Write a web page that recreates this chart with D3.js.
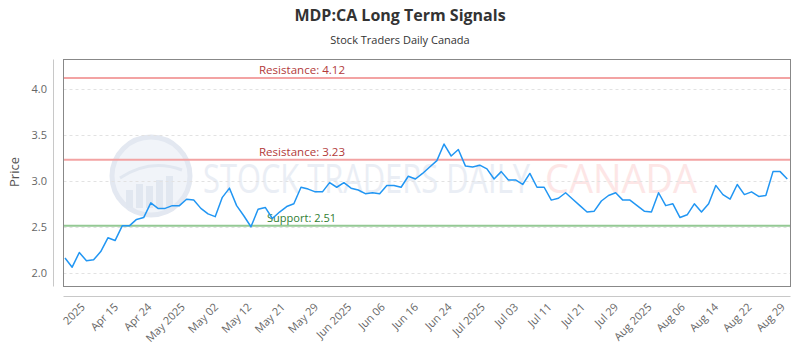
<!DOCTYPE html>
<html>
<head>
<meta charset="utf-8">
<script src="https://cdn.jsdelivr.net/npm/d3@7"></script>
<style>
  body { margin: 0; background: #fff; }
  svg { display: block; font-family: "Open Sans", sans-serif; }
</style>
</head>
<body>
<svg id="chart" width="800" height="350"></svg>
<script>
// closing prices, one per trading day
const prices = [
  2.16, 2.06, 2.22, 2.13, 2.14, 2.23, 2.38, 2.35, 2.51, 2.51,
  2.58, 2.60, 2.76, 2.70, 2.70, 2.73, 2.73, 2.80, 2.79, 2.70,
  2.64, 2.61, 2.82, 2.92, 2.73, 2.62, 2.50, 2.69, 2.71, 2.59,
  2.66, 2.72, 2.75, 2.93, 2.91, 2.88, 2.88, 2.98, 2.93, 2.98,
  2.92, 2.90, 2.86, 2.87, 2.86, 2.95, 2.95, 2.93, 3.05, 3.02,
  3.08, 3.15, 3.22, 3.40, 3.27, 3.34, 3.16, 3.15, 3.17, 3.13,
  3.02, 3.10, 3.01, 3.01, 2.96, 3.08, 2.93, 2.93, 2.79, 2.81,
  2.87, 2.80, 2.73, 2.66, 2.67, 2.78, 2.84, 2.87, 2.79, 2.79,
  2.73, 2.67, 2.66, 2.87, 2.73, 2.75, 2.60, 2.63, 2.75, 2.66,
  2.75, 2.95, 2.85, 2.80, 2.96, 2.85, 2.88, 2.83, 2.84, 3.10,
  3.10, 3.02
];

const tickLabels = [
  "2025", "Apr 15", "Apr 24", "May 2025", "May 02", "May 12", "May 21",
  "May 29", "Jun 2025", "Jun 06", "Jun 16", "Jun 24", "Jul 2025", "Jul 03",
  "Jul 11", "Jul 21", "Jul 29", "Aug 2025", "Aug 06", "Aug 14", "Aug 22", "Aug 29"
];

const yTicks = [2.0, 2.5, 3.0, 3.5, 4.0];

const levels = [
  { label: "Resistance", value: 4.12, kind: "res" },
  { label: "Resistance", value: 3.23, kind: "res" },
  { label: "Support", value: 2.51, kind: "sup" }
];

const frame = { left: 63.5, right: 790.5, top: 59.5, bottom: 286.5 };

const svg = d3.select("#chart");

let x = d3.scaleLinear()
  .domain([0, prices.length - 1])
  .range([65, 787.3]);

let y = d3.scaleLinear()
  .domain([1.85, 4.32])
  .range([frame.bottom, frame.top]);

// title
svg.append("text")
  .attr("x", 400).attr("y", 21)
  .attr("text-anchor", "middle")
  .attr("font-size", 16).attr("font-weight", 700)
  .attr("fill", "#333")
  .text("MDP:CA Long Term Signals");

svg.append("text")
  .attr("x", 400).attr("y", 44)
  .attr("text-anchor", "middle")
  .attr("font-size", 11)
  .attr("fill", "#333")
  .text("Stock Traders Daily Canada");

// watermark
const wm = svg.append("g").attr("pointer-events", "none");
wm.append("circle")
  .attr("cx", 151).attr("cy", 176).attr("r", 39)
  .attr("fill", "#f1f4f9")
  .attr("stroke", "#e3e8f1").attr("stroke-width", 5);
[[126, 190], [136, 184], [146, 186], [156, 180], [166, 176]].forEach(([bx, by]) => {
  wm.append("rect")
    .attr("x", bx).attr("y", by)
    .attr("width", 7).attr("height", 208 - by)
    .attr("fill", "#e1e7f0");
});
wm.append("path")
  .attr("d", "M120,178 Q150,158 182,170")
  .attr("fill", "none").attr("stroke", "#e1e7f0").attr("stroke-width", 3);
wm.append("text")
  .attr("x", 203).attr("y", 193)
  .attr("font-size", 40)
  .attr("textLength", 327).attr("lengthAdjust", "spacingAndGlyphs")
  .attr("fill", "#eaeef5")
  .text("STOCK TRADERS DAILY");
wm.append("text")
  .attr("x", 545).attr("y", 193)
  .attr("font-size", 40)
  .attr("textLength", 152).attr("lengthAdjust", "spacingAndGlyphs")
  .attr("fill", "#fde6e6")
  .text("CANADA");

// grid
svg.append("g")
  .selectAll("line")
  .data(yTicks)
  .join("line")
  .attr("x1", frame.left).attr("x2", frame.right)
  .attr("y1", d => Math.round(y(d)) + 0.5).attr("y2", d => Math.round(y(d)) + 0.5)
  .attr("stroke", "#e2e2e2")
  .attr("stroke-dasharray", "3,3");

// y axis
svg.append("line")
  .attr("x1", 53.5).attr("x2", 53.5)
  .attr("y1", frame.top).attr("y2", frame.bottom)
  .attr("stroke", "#c8c8c8");

svg.append("g")
  .selectAll("text")
  .data(yTicks)
  .join("text")
  .attr("x", 47).attr("y", d => y(d))
  .attr("dy", "0.35em")
  .attr("text-anchor", "end")
  .attr("font-size", 11)
  .attr("fill", "#666")
  .text(d => d3.format(".1f")(d));

svg.append("text")
  .attr("transform", "translate(19,172) rotate(-90)")
  .attr("text-anchor", "middle")
  .attr("font-size", 13)
  .attr("fill", "#555")
  .text("Price");

// signal levels
const lv = svg.append("g");
lv.selectAll("line")
  .data(levels)
  .join("line")
  .attr("x1", frame.left).attr("x2", frame.right)
  .attr("y1", d => y(d.value)).attr("y2", d => y(d.value))
  .attr("stroke", d => d.kind === "res" ? "#f3a3a3" : "#94c994")
  .attr("stroke-width", 2);

lv.selectAll("text")
  .data(levels)
  .join("text")
  .attr("x", d => d.kind === "res" ? 259 : 267)
  .attr("y", d => y(d.value) - 4)
  .attr("font-size", 11.5)
  .attr("textLength", d => d.kind === "res" ? 86 : 69)
  .attr("lengthAdjust", "spacingAndGlyphs")
  .attr("fill", d => d.kind === "res" ? "#b23a3a" : "#2f7d32")
  .text(d => d.label + ": " + d.value.toFixed(2));

// price line
svg.append("path")
  .datum(prices)
  .attr("fill", "none")
  .attr("stroke", "#2196f3")
  .attr("stroke-width", 1.5)
  .attr("stroke-linejoin", "round")
  .attr("d", d3.line().x((d, i) => x(i)).y(d => y(d)));

// frame
svg.append("rect")
  .attr("x", frame.left).attr("y", frame.top)
  .attr("width", frame.right - frame.left)
  .attr("height", frame.bottom - frame.top)
  .attr("fill", "none")
  .attr("stroke", "#888");

// x axis
svg.append("line")
  .attr("x1", frame.left).attr("x2", frame.right)
  .attr("y1", 296.5).attr("y2", 296.5)
  .attr("stroke", "#c8c8c8");

let xl = d3.scalePoint()
  .domain(tickLabels)
  .range([x(2.5), x(100.4)]);

svg.append("g")
  .selectAll("text")
  .data(tickLabels)
  .join("text")
  .attr("transform", d => `translate(${xl(d)},305) rotate(-45)`)
  .attr("dy", "0.35em")
  .attr("text-anchor", "end")
  .attr("font-size", 11)
  .attr("fill", "#666")
  .text(d => d);
</script>
</body>
</html>
